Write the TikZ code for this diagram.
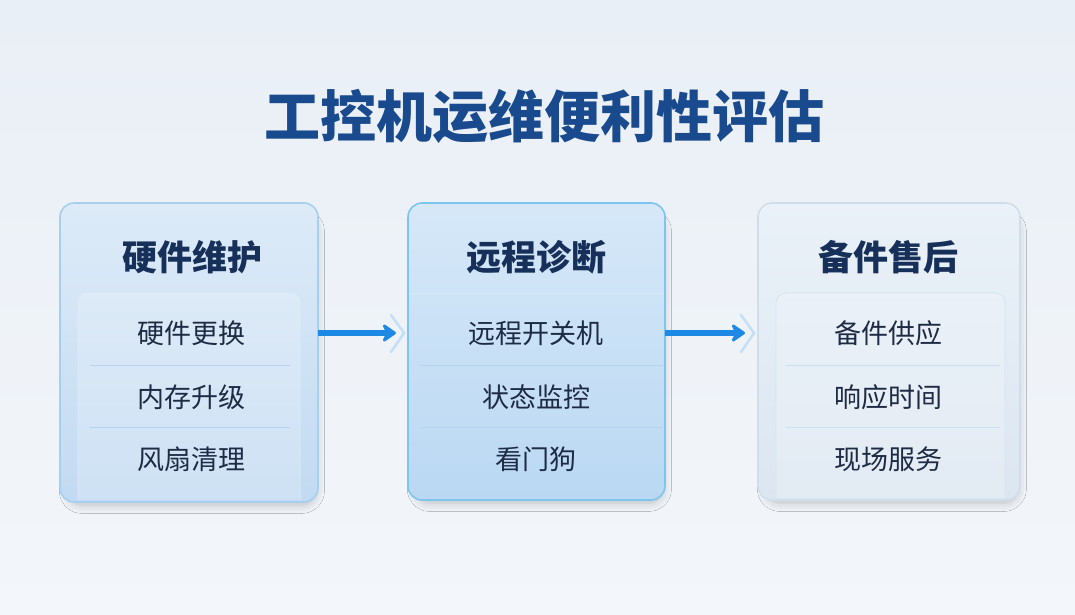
\documentclass[tikz,border=0pt]{standalone}
\usepackage{fontspec}
\newfontfamily\cjk{Noto Sans CJK SC}
\usetikzlibrary{shadows.blur,arrows.meta}
\definecolor{bgtop}{HTML}{E9EFF6}
\definecolor{bgbot}{HTML}{F3F6FA}
\definecolor{titleblue}{HTML}{1A4A8E}
\definecolor{headnavy}{HTML}{17305A}
\definecolor{itemtxt}{HTML}{1E2B45}
\definecolor{arrblue}{HTML}{1E88E5}
\definecolor{sepline}{HTML}{B4D3EE}
\definecolor{c1top}{HTML}{DDEBF8}
\definecolor{c1bot}{HTML}{C2DAF2}
\definecolor{c1bd}{HTML}{A6CFF0}
\definecolor{c2top}{HTML}{D6E8F8}
\definecolor{c2bot}{HTML}{BAD8F3}
\definecolor{c2bd}{HTML}{7CC5EE}
\definecolor{c3top}{HTML}{EAF1F8}
\definecolor{c3bot}{HTML}{DCE6F1}
\definecolor{c3bd}{HTML}{D0DEEC}
\tikzset{
  card/.style={rounded corners=14pt, draw=#1, line width=1.6pt,
    blur shadow={shadow xshift=3pt, shadow yshift=-9pt, shadow scale=0.96, shadow blur radius=9pt, shadow opacity=24}},
  head/.style={font=\cjk\bfseries\fontsize{35}{40}\selectfont, text=headnavy, inner sep=0pt},
  item/.style={font=\cjk\fontsize{27}{32}\selectfont, text=itemtxt, inner sep=0pt},
  sep/.style={draw=sepline, line width=1pt},
  panel/.style={rounded corners=10pt, draw=#1, line width=0.8pt},
  arr/.style={draw=arrblue, line width=5.5pt, -{Stealth[length=16pt,width=22pt,round]}},
  chev/.style={draw=arrblue!30, line width=2.5pt, line cap=round, opacity=0.8}
}
\begin{document}
\begin{tikzpicture}[x=1pt,y=-1pt]
\useasboundingbox (0,0) rectangle (1075,614);
\shade[top color=bgtop, bottom color=bgbot] (0,0) rectangle (1075,614);
% title
\node[font=\cjk\bfseries\fontsize{56}{62}\selectfont, text=titleblue, inner sep=0pt] (t) at (544,116) {工控机运维便利性评估};
% card 1
\shade[card=c1bd, top color=c1top, bottom color=c1bot] (60,203) rectangle (318,502);
\node[inner sep=0pt, minimum width=258pt, minimum height=299pt] (c1) at (189,352.5) {};
\fill[white, opacity=0.2, rounded corners=10pt] (78,500) -- (78,293) -- (300,293) -- (300,500);
\draw[panel=white!60!sepline] (78,500) -- (78,293) -- (300,293) -- (300,500);
\draw[sep] (90,365) -- (290,365);
\draw[sep] (90,427) -- (290,427);
\node[head] (h1) at (192,257) {硬件维护};
\node[item] (i11) at (191,333) {硬件更换};
\node[item] (i12) at (191,397) {内存升级};
\node[item] (i13) at (191,459) {风扇清理};
% card 2
\shade[card=c2bd, top color=c2top, bottom color=c2bot] (408,203) rectangle (665,500);
\node[inner sep=0pt, minimum width=257pt, minimum height=297pt] (c2) at (536.5,351.5) {};
\draw[sep, draw=white!50!sepline] (409,293) -- (664,293);
\draw[sep] (420,365) -- (663,365);
\draw[sep] (420,427) -- (663,427);
\node[head] (h2) at (536,257) {远程诊断};
\node[item] (i21) at (536,333) {远程开关机};
\node[item] (i22) at (536,397) {状态监控};
\node[item] (i23) at (536,459) {看门狗};
% card 3
\shade[card=c3bd, top color=c3top, bottom color=c3bot] (758,203) rectangle (1020,500);
\node[inner sep=0pt, minimum width=262pt, minimum height=297pt] (c3) at (889,351.5) {};
\fill[white, opacity=0.2, rounded corners=10pt] (776,498) -- (776,293) -- (1005,293) -- (1005,498);
\draw[panel=white!40!sepline] (776,498) -- (776,293) -- (1005,293) -- (1005,498);
\draw[sep, draw=white!30!sepline] (786,365) -- (1000,365);
\draw[sep, draw=white!30!sepline] (786,427) -- (1000,427);
\node[head] (h3) at (888,257) {备件售后};
\node[item] (i31) at (888,333) {备件供应};
\node[item] (i32) at (888,397) {响应时间};
\node[item] (i33) at (888,459) {现场服务};
% arrows
\coordinate (a1e) at (396,333);
\coordinate (a2e) at (745,333);
\draw[arr] (c1.east |- i11.center) -- (a1e);
\draw[arr] (c2.east |- i21.center) -- (a2e);
\draw[chev] (391,315) -- (404,333) -- (391,352);
\draw[chev] (741,315) -- (754,333) -- (741,352);
\end{tikzpicture}
\end{document}
